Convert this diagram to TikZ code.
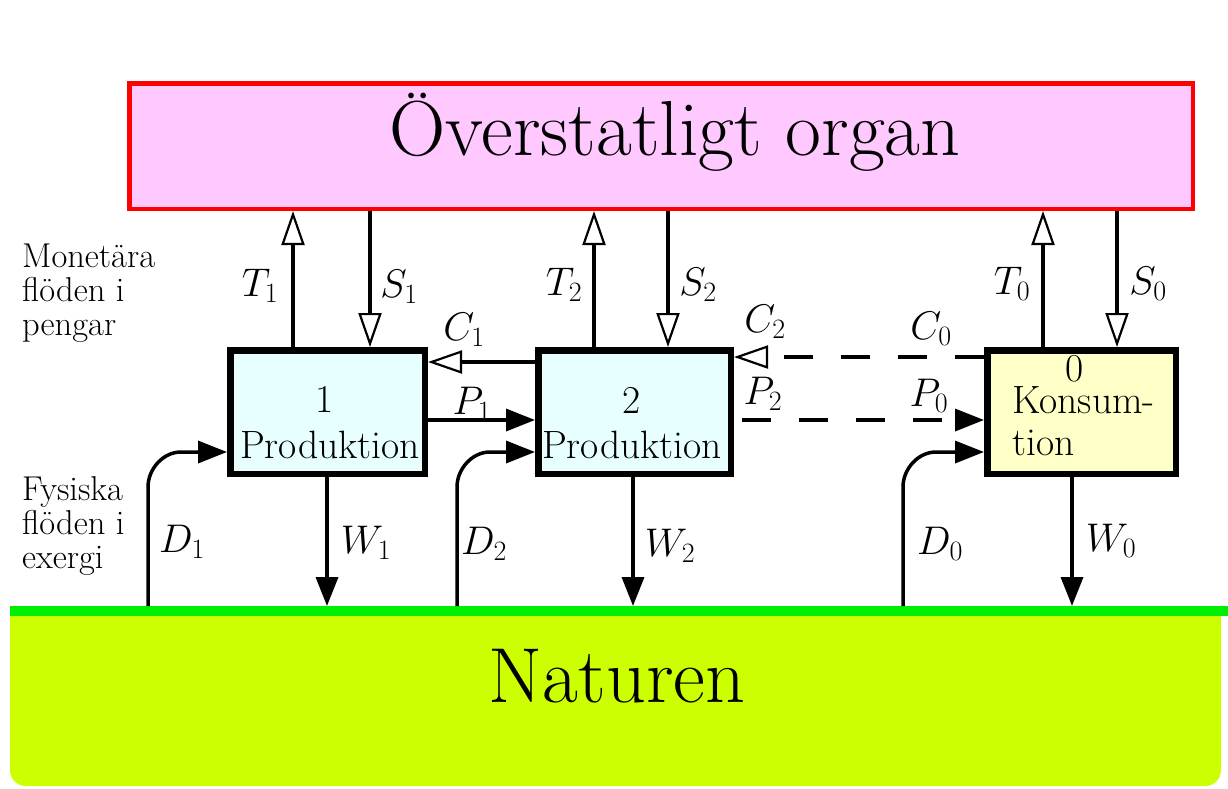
\RequirePackage{fix-cm}
\documentclass[tikz,border=0pt]{standalone}
\usetikzlibrary{arrows.meta}
\definecolor{orgfill}{HTML}{FFC8FF}
\definecolor{orgline}{HTML}{FF0000}
\definecolor{prodfill}{HTML}{E8FFFF}
\definecolor{konsfill}{HTML}{FFFFC8}
\definecolor{natfill}{HTML}{CCFF00}
\definecolor{natline}{HTML}{00EE00}
\begin{document}
\begin{tikzpicture}[x=1pt,y=-1pt,
  sector/.style={draw=black, line width=6.5pt, minimum width=194.5pt, minimum height=123.5pt, inner sep=0pt},
  lab/.style={font=\fontsize{40}{46}\selectfont, inner sep=0pt},
  boxtxt/.style={font=\fontsize{39.5}{46}\selectfont, inner sep=0pt, anchor=base},
  side/.style={font=\fontsize{34.5}{34}\selectfont, align=left, anchor=north west, inner sep=0pt},
  money/.style={line width=3.5pt, -{Triangle[open, length=34pt, width=23pt, line width=2.2pt, fill=white]}},
  phys/.style={line width=3.5pt, -{Triangle[length=29pt, width=22pt]}},
  dashline/.style={dash pattern=on 29pt off 28pt}]
\useasboundingbox (0,0) rectangle (1228,788);
% Nature
\fill[natfill] (10,611) -- (10,770) .. controls (10,779) and (17,786) .. (26,786) -- (1205,786) .. controls (1214,786) and (1221,779) .. (1221,770) -- (1221,611) -- cycle;
\draw[natline, line width=10pt] (10,611) -- (1228,611);
\coordinate (gl) at (0,606);
\node[font=\fontsize{78}{86}\selectfont, anchor=base, inner sep=0pt] (natur) at (617,702) {Naturen};
% Top organ
\node[draw=orgline, fill=orgfill, line width=4.5pt, minimum width=1063.5pt, minimum height=125.5pt] (org) at (661,146) {};
\node[font=\fontsize{78}{86}\selectfont, anchor=base, inner sep=0pt] (orgt) at (675,155) {Överstatligt organ};
% Sectors
\node[sector, fill=prodfill] (b1) at (327.5,412) {};
\node[sector, fill=prodfill, minimum width=192.5pt] (b2) at (634.5,412) {};
\node[sector, fill=konsfill, minimum width=188.5pt] (b0) at (1081.5,412) {};
\node[boxtxt] (b1n) at (325,412) {1};
\node[boxtxt] (b1p) at (330,458) {Produktion};
\node[boxtxt] (b2n) at (632,413) {2};
\node[boxtxt] (b2p) at (632,458) {Produktion};
\node[font=\fontsize{39.5}{32}\selectfont, inner sep=0pt, align=left, anchor=north west] (b0t) at (1012,355) {\hspace*{53pt}0\\Konsum-\\[10pt]tion};
% Taxes and subsidies
\coordinate (t1) at ([xshift=-34.5pt]b1.north);
\coordinate (s1) at ([xshift=42.5pt]b1.north);
\coordinate (t2) at ([xshift=-40.5pt]b2.north);
\coordinate (s2) at ([xshift=33.5pt]b2.north);
\coordinate (t0) at ([xshift=-38.5pt]b0.north);
\coordinate (s0) at ([xshift=35.5pt]b0.north);
\draw[money] (t1) -- (t1 |- org.south);
\draw[money] (s1 |- org.south) -- (s1);
\draw[money] (t2) -- (t2 |- org.south);
\draw[money] (s2 |- org.south) -- (s2);
\draw[money] (t0) -- (t0 |- org.south);
\draw[money] (s0 |- org.south) -- (s0);
% Payments and products
\coordinate (c1a) at ([yshift=50pt]b2.west);
\draw[money] (c1a) -- (c1a -| b1.east);
\coordinate (c2a) at ([yshift=55pt]b0.west);
\draw[money, dashline] (c2a) -- (c2a -| b2.east);
\coordinate (p1a) at ([yshift=-8pt]b1.east);
\draw[phys] (p1a) -- (p1a -| b2.west);
\coordinate (p2a) at ([yshift=-8pt,xshift=8pt]b2.east);
\draw[phys, dashline] (p2a) -- (p2a -| b0.west);
% Extraction from nature
\coordinate (d1g) at (148,606);
\coordinate (d2g) at (457,606);
\coordinate (d0g) at (903,606);
\coordinate (d1i) at ([yshift=-40pt]b1.west);
\coordinate (d2i) at ([yshift=-40pt]b2.west);
\coordinate (d0i) at ([yshift=-40pt]b0.west);
\draw[phys] (d1g) -- (148,487) .. controls (148,469) and (163,452) .. (181,452) -- (d1i);
\draw[phys] (d2g) -- (457,487) .. controls (457,469) and (472,452) .. (490,452) -- (d2i);
\draw[phys] (d0g) -- (903,487) .. controls (903,469) and (918,452) .. (936,452) -- (d0i);
% Waste
\coordinate (w1) at ([xshift=-0.5pt]b1.south);
\coordinate (w2) at ([xshift=-1.5pt]b2.south);
\coordinate (w0) at ([xshift=-9.5pt]b0.south);
\draw[phys] (w1) -- (w1 |- gl);
\draw[phys] (w2) -- (w2 |- gl);
\draw[phys] (w0) -- (w0 |- gl);
% Labels
\node[lab] (lT1) at (260,286) {$T_1$};
\node[lab] (lS1) at (399,287) {$S_1$};
\node[lab] (lT2) at (564,285) {$T_2$};
\node[lab] (lS2) at (698,285) {$S_2$};
\node[lab] (lT0) at (1012,284) {$T_0$};
\node[lab] (lS0) at (1148,284) {$S_0$};
\node[lab] (lC1) at (464,330) {$C_1$};
\node[lab] (lC2) at (765,322) {$C_2$};
\node[lab] (lC0) at (931,329) {$C_0$};
\node[lab] (lP1) at (472,404) {$P_1$};
\node[lab] (lP2) at (763,394) {$P_2$};
\node[lab] (lP0) at (929,396) {$P_0$};
\node[lab] (lD1) at (182,542) {$D_1$};
\node[lab] (lD2) at (484,544) {$D_2$};
\node[lab] (lD0) at (940,544) {$D_0$};
\node[lab] (lW1) at (366,543) {$W_1$};
\node[lab] (lW2) at (670,546) {$W_2$};
\node[lab] (lW0) at (1111,541) {$W_0$};
% Side texts
\node[side] (mon) at (22,244) {Monetära\\flöden i\\pengar};
\node[side] (fys) at (22,476) {Fysiska\\flöden i\\exergi};
\end{tikzpicture}
\end{document}
